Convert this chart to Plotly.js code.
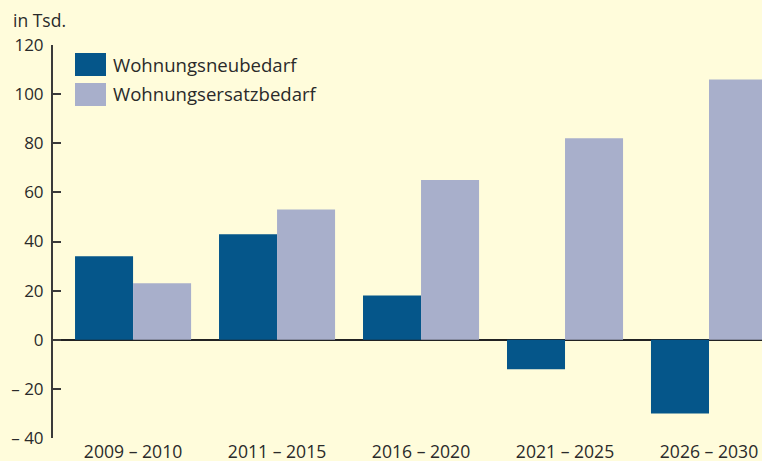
<!DOCTYPE html>
<html>
<head>
<meta charset="utf-8">
<script src="https://cdn.plot.ly/plotly-3.0.1.min.js"></script>
<style>html,body{margin:0;padding:0;background:#FFFCDB;}#chart{width:762px;height:461px;}</style>
</head>
<body>
<div id="chart"></div>
<script>
const categories = ["2009 – 2010", "2011 – 2015", "2016 – 2020", "2021 – 2025", "2026 – 2030"];
const seriesNames = ["Wohnungsneubedarf", "Wohnungsersatzbedarf"];
const neubedarf = [34, 43, 18, -12, -30];
const ersatzbedarf = [23, 53, 65, 82, 106];
const yTickVals = [-40, -20, 0, 20, 40, 60, 80, 100, 120];
const yTickText = ["– 40", "– 20", "0", "20", "40", "60", "80", "100", "120"];
const unitLabel = "in Tsd.";

const W = 762, H = 461;
const M = {l: 53, r: 0, t: 45, b: 23};
const pw = W - M.l - M.r, ph = H - M.t - M.b;
const px = x => (x - M.l) / pw;
const py = y => (H - M.b - y) / ph;

const colors = ["#05568A", "#A8AFCB"];
const fam = "Open Sans, Liberation Sans, Arial, sans-serif";
const txt = "#2a2a2a";
const font = {family: fam, size: 17, color: txt};

const data = [
  {type: "bar", x: categories, y: neubedarf, name: seriesNames[0], marker: {color: colors[0]}, hoverinfo: "none"},
  {type: "bar", x: categories, y: ersatzbedarf, name: seriesNames[1], marker: {color: colors[1]}, hoverinfo: "none"}
];

const shapes = [
  {type: "rect", xref: "paper", yref: "paper", x0: px(75), x1: px(106), y0: py(76), y1: py(53), fillcolor: colors[0], line: {width: 0}},
  {type: "rect", xref: "paper", yref: "paper", x0: px(75), x1: px(106), y0: py(106), y1: py(83), fillcolor: colors[1], line: {width: 0}}
];

const annotations = [
  {xref: "paper", yref: "paper", x: px(11), y: py(20), xanchor: "left", yanchor: "middle", text: unitLabel, showarrow: false, font: {family: fam, size: 17.5, color: txt}},
  {xref: "paper", yref: "paper", x: px(111), y: py(64), xanchor: "left", yanchor: "middle", text: seriesNames[0], showarrow: false, font: {family: fam, size: 18.6, color: txt}},
  {xref: "paper", yref: "paper", x: px(111), y: py(94), xanchor: "left", yanchor: "middle", text: seriesNames[1], showarrow: false, font: {family: fam, size: 18.6, color: txt}}
];

const layout = {
  width: W, height: H,
  margin: M,
  paper_bgcolor: "#FFFCDB",
  plot_bgcolor: "#FFFCDB",
  showlegend: false,
  barmode: "group",
  bargap: 0.194,
  bargroupgap: 0,
  font: font,
  xaxis: {
    type: "category",
    range: [-0.556, 4.368],
    showgrid: false, zeroline: false, showline: false,
    ticks: "", ticklabelstandoff: 1,
    tickfont: {family: fam, size: 17.6, color: txt}, fixedrange: true
  },
  yaxis: {
    range: [-40, 120],
    tickvals: yTickVals, ticktext: yTickText,
    showgrid: false,
    zeroline: true, zerolinecolor: "#222", zerolinewidth: 2,
    showline: true, linecolor: "#3a3a3a", linewidth: 2,
    ticks: "inside", ticklen: 8, tickwidth: 2, tickcolor: "#3a3a3a",
    ticklabelstandoff: 4,
    tickfont: font, fixedrange: true
  },
  shapes: shapes,
  annotations: annotations
};

Plotly.newPlot("chart", data, layout, {displayModeBar: false, staticPlot: true});
</script>
</body>
</html>
